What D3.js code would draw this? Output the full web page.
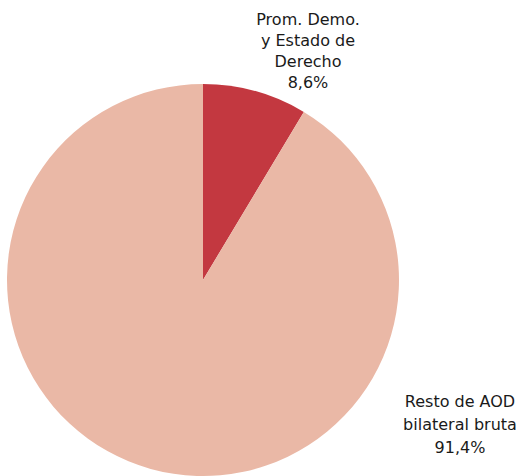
<!DOCTYPE html>
<html><head><meta charset="utf-8">
<script src="https://cdn.jsdelivr.net/npm/d3@7"></script>
<style>body{margin:0;background:#fff}svg{display:block}</style>
</head><body>
<script>
const categories = ["Prom. Demo. y Estado de Derecho", "Resto de AOD bilateral bruta"];
const values = [8.6, 91.4];
const labelLines = [["Prom. Demo.", "y Estado de", "Derecho", "8,6%"], ["Resto de AOD", "bilateral bruta", "91,4%"]];
const colors = ["#C33840", "#EAB8A6"];

const W = 518, H = 476;
const svg = d3.select("body").append("svg").attr("width", W).attr("height", H);
const cx = 203, cy = 280, r = 196;
const pie = d3.pie().sort(null).value(d => d)(values);
const arc = d3.arc().innerRadius(0).outerRadius(r);
const g = svg.append("g").attr("transform", `translate(${cx},${cy})`);
g.selectAll("path").data(pie).join("path").attr("d", arc).attr("fill", (d, i) => colors[i]);

const labelPos = [[308, 25], [460, 407]];
const lh = [21, 23];
labelLines.forEach((lines, i) => {
  const t = svg.append("text").attr("text-anchor", "middle")
    .attr("font-family", "'DejaVu Sans', sans-serif").attr("font-size", 16).attr("fill", "#1a1a1a");
  lines.forEach((ln, j) => t.append("tspan").attr("x", labelPos[i][0]).attr("y", labelPos[i][1] + j * lh[i]).text(ln));
});
</script>
</body></html>
